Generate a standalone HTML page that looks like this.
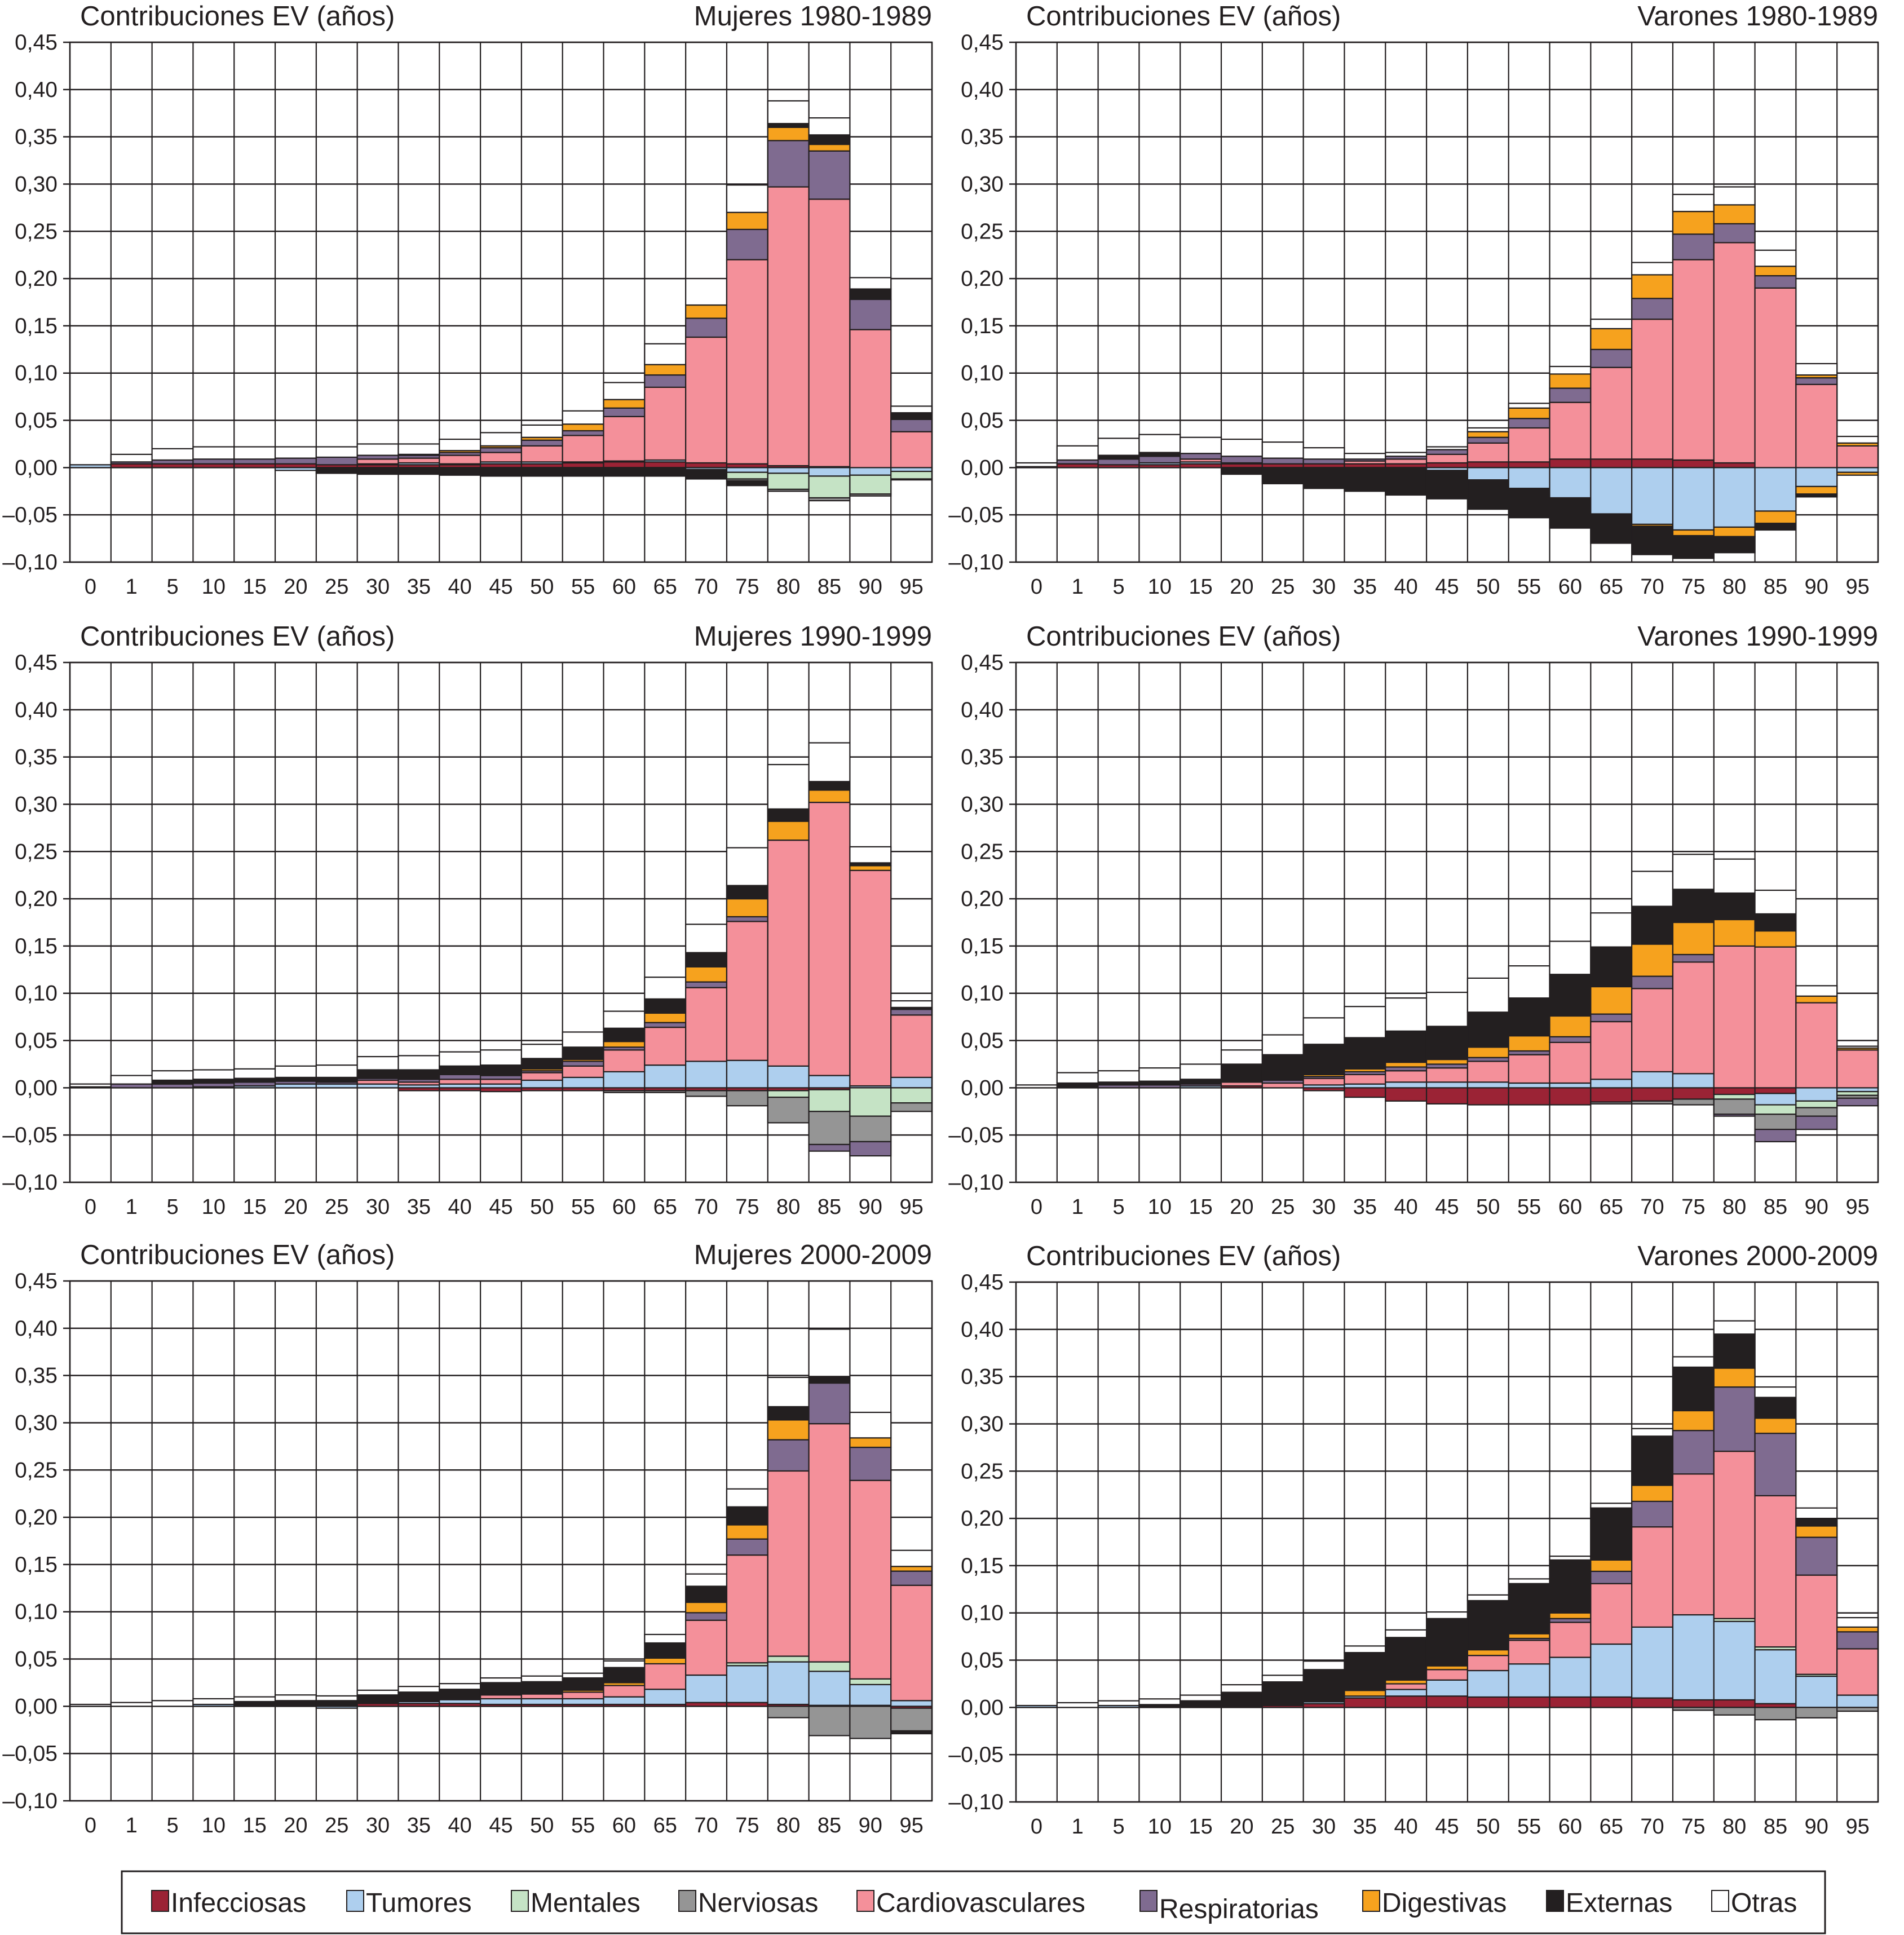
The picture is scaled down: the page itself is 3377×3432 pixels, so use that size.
<!DOCTYPE html>
<html><head><meta charset="utf-8"><style>
html,body{margin:0;padding:0;background:#fff;}
svg{display:block;font-family:"Liberation Sans",Arial,sans-serif;}
</style></head><body>
<svg id="chart" xmlns="http://www.w3.org/2000/svg" width="3377" height="3432" viewBox="0 0 3377 3432"></svg>
<script>
// categories and axis
const categories = ["Infecciosas","Tumores","Mentales","Nerviosas","Cardiovasculares","Respiratorias","Digestivas","Externas","Otras"];
const catKeys = ["inf","tum","ment","nerv","card","resp","dig","ext","otr"];
const catColors = ["#9b2335","#aecfee","#c5e3c5","#959595","#f4909a","#7f6b90","#f6a21e","#231f20","#ffffff"];
const ageLabels = ["0","1","5","10","15","20","25","30","35","40","45","50","55","60","65","70","75","80","85","90","95"];
const yTicks = [-0.10,-0.05,0,0.05,0.10,0.15,0.20,0.25,0.30,0.35,0.40,0.45];
const panelTitles = ["Mujeres 1980-1989","Varones 1980-1989","Mujeres 1990-1999","Varones 1990-1999","Mujeres 2000-2009","Varones 2000-2009"];

// Panel 1: Mujeres 1980-1989
const P1_inf = [0,.004,.004,.004,.004,.004,.003,.003,.003,.003,.004,.004,.005,.006,.006,.005,.004,.002,.001,0,0];
const P1_tum = [.003,0,0,0,0,-.003,0,.001,.002,.001,.002,.002,.001,.001,.002,-.002,-.005,-.006,-.009,-.008,-.004];
const P1_ment = [0,0,0,0,0,0,0,0,0,0,0,0,0,0,0,0,-.007,-.017,-.023,-.02,-.008];
const P1_nerv = [0,0,0,0,0,0,0,0,0,0,0,0,0,0,0,0,-.002,-.002,-.003,-.002,-.001];
const P1_card = [0,0,0,0,0,0,0,.005,.005,.009,.01,.017,.028,.047,.077,.133,.216,.295,.283,.146,.038];
const P1_resp = [0,.002,.004,.005,.005,.006,.008,.004,.003,.003,.005,.006,.005,.009,.013,.02,.032,.049,.051,.032,.013];
const P1_dig = [0,0,0,0,0,0,0,0,.001,.002,.002,.003,.007,.009,.011,.014,.018,.014,.007,0,0];
const P1_ext = [0,0,0,0,0,0,-.006,-.007,-.007,-.008,-.009,-.009,-.009,-.009,-.009,-.01,-.005,.004,.01,.011,.007];
const P1_otr = [0,.008,.012,.013,.013,.012,.011,.012,.011,.012,.014,.013,.014,.018,.022,.028,.029,.024,.018,.012,.007];

// Panel 2: Varones 1980-1989
const P2_inf = [.001,.004,.003,.003,.004,.004,.004,.004,.004,.004,.005,.006,.006,.009,.009,.009,.008,.005,0,0,0];
const P2_tum = [0,0,0,.002,.002,.001,0,0,0,0,-.003,-.013,-.022,-.032,-.049,-.06,-.066,-.063,-.046,-.02,-.005];
const P2_ment = [0,0,0,0,0,0,0,0,0,0,0,0,0,0,0,0,0,0,0,0,0];
const P2_nerv = [0,0,0,0,0,0,0,0,0,0,0,0,0,0,0,0,0,0,0,0,0];
const P2_card = [0,0,0,0,.003,0,0,0,.003,.005,.009,.02,.036,.06,.097,.148,.212,.233,.19,.088,.023];
const P2_resp = [0,.004,.006,.007,.006,.007,.006,.005,.002,.003,.005,.006,.01,.015,.019,.022,.027,.02,.013,.007,0];
const P2_dig = [0,0,0,0,0,0,0,0,0,0,0,.006,.011,.015,.022,.025,.024,.02,.01,.003,.003];
const P2_digNeg = [0,0,0,0,0,0,0,0,0,0,0,0,0,0,0,-.002,-.006,-.01,-.013,-.008,-.003];
const P2_ext = [0,0,.004,.004,0,-.007,-.017,-.022,-.025,-.029,-.03,-.031,-.031,-.032,-.031,-.03,-.024,-.017,-.007,-.003,0];
const P2_otr = [.004,.015,.018,.019,.017,.018,.017,.012,.006,.004,.003,.004,.005,.008,.01,.013,.018,.019,.017,.012,.007];

// Panel 3: Mujeres 1990-1999
const P3_inf = [0,0,0,0,0,0,0,0,-.003,-.003,-.004,-.003,-.003,-.003,-.003,-.003,-.003,-.003,-.002,0,0];
const P3_tum = [.001,0,0,.001,.002,.004,.004,.004,.003,.004,.004,.008,.011,.017,.024,.028,.029,.023,.013,.002,.011];
const P3_ment = [0,0,0,0,0,0,0,0,0,0,0,0,0,0,0,0,0,-.007,-.023,-.03,-.016];
const P3_nerv = [0,0,0,0,0,0,0,0,0,0,0,0,0,-.002,-.002,-.006,-.016,-.027,-.035,-.027,-.009];
const P3_card = [0,0,0,0,0,0,0,.004,.003,.005,.005,.008,.012,.023,.04,.078,.147,.239,.289,.228,.066];
const P3_resp = [0,.004,.004,.004,.004,.003,.002,.002,.003,.005,.004,.002,.005,.003,.005,.006,.005,0,-.007,-.015,.006];
const P3_dig = [0,0,0,0,0,0,0,0,0,0,0,.002,.002,.006,.01,.016,.019,.02,.013,.005,0];
const P3_ext = [0,0,.004,.004,.004,.004,.005,.009,.01,.009,.011,.011,.013,.014,.015,.015,.014,.013,.009,.003,.002];
const P3_otr = [.003,.009,.010,.010,.010,.012,.013,.014,.015,.015,.016,.015,.016,.018,.023,.03,.04,.047,.041,.017,.007];

// Panel 4: Varones 1990-1999
const P4_inf = [0,.001,0,0,0,.002,0,-.003,-.01,-.014,-.017,-.018,-.018,-.018,-.015,-.014,-.012,-.007,-.006,0,0];
const P4_tum = [0,0,0,0,.002,0,0,.003,.004,.006,.006,.006,.005,.005,.009,.017,.015,0,-.012,-.014,-.004];
const P4_ment = [0,0,0,0,0,0,0,0,0,0,0,0,0,0,0,0,0,-.005,-.01,-.007,-.004];
const P4_nerv = [0,0,0,0,0,0,0,0,0,0,0,0,0,0,-.002,-.003,-.006,-.016,-.016,-.009,-.003];
const P4_card = [0,0,0,0,0,.004,.005,.007,.01,.012,.015,.022,.03,.043,.061,.088,.118,.15,.149,.09,.04];
const P4_resp = [0,0,.003,.003,.002,0,.003,.002,.003,.004,.004,.004,.004,.006,.008,.013,.008,-.002,-.013,-.014,-.008];
const P4_dig = [0,0,0,0,0,0,0,.002,.003,.005,.005,.011,.016,.022,.029,.034,.034,.028,.017,.007,.002];
const P4_ext = [0,.004,.003,.004,.005,.019,.027,.032,.033,.033,.035,.037,.04,.044,.042,.04,.035,.028,.018,0,0];
const P4_otr = [.003,.011,.012,.014,.016,.015,.021,.028,.033,.035,.036,.036,.034,.035,.036,.037,.037,.036,.025,.011,.002];

// Panel 5: Mujeres 2000-2009
const P5_inf = [0,0,0,0,0,0,0,.003,.003,.003,.002,.002,.002,.002,.002,.004,.004,.002,.001,.001,-.002];
const P5_tum = [0,0,0,.002,0,0,-.002,0,.002,.004,.006,.006,.006,.008,.016,.029,.039,.045,.036,.022,.006];
const P5_ment = [0,0,0,0,0,0,0,0,0,0,0,0,0,0,0,0,.003,.006,.01,.006,0];
const P5_nerv = [0,0,0,0,0,0,0,0,0,0,0,0,0,0,0,0,0,-.012,-.031,-.034,-.024];
const P5_card = [0,0,0,0,0,0,0,0,0,0,.004,.005,.007,.012,.027,.058,.114,.196,.252,.21,.122];
const P5_resp = [0,0,0,0,0,0,0,0,0,0,0,0,0,0,0,.008,.017,.033,.043,.035,.015];
const P5_dig = [0,0,0,0,0,0,0,0,0,0,0,.001,.002,.003,.006,.011,.015,.021,0,.01,.005];
const P5_ext = [0,0,0,0,.005,.006,.006,.009,.01,.011,.013,.012,.013,.016,.016,.017,.019,.014,.007,0,-.003];
const P5_otr = [.002,.004,.006,.006,.005,.006,.005,.005,.006,.006,.005,.006,.005,.007,.009,.013,.019,.031,.05,.027,.017];

// Panel 6: Varones 2000-2009
const P6_inf = [0,0,0,0,0,0,.002,.004,.01,.012,.012,.011,.011,.011,.011,.01,.008,.008,.004,0,0];
const P6_tum = [.002,0,.002,0,0,0,0,.002,.002,.007,.017,.028,.035,.042,.056,.075,.09,.083,.057,.033,.013];
const P6_ment = [0,0,0,0,0,0,0,0,0,0,0,0,0,0,0,0,0,.003,.003,.002,0];
const P6_nerv = [0,0,0,0,0,0,0,0,0,0,0,0,0,0,0,0,-.003,-.008,-.013,-.011,-.004];
const P6_card = [0,0,0,0,0,0,0,0,0,.006,.011,.016,.025,.037,.064,.106,.149,.177,.16,.105,.049];
const P6_resp = [0,0,0,0,0,0,0,0,0,0,0,0,.002,.004,.013,.027,.046,.068,.066,.04,.018];
const P6_dig = [0,0,0,0,0,0,.001,0,.006,.004,.004,.006,.005,.006,.012,.017,.021,.02,.016,.012,.005];
const P6_ext = [0,0,0,.003,.007,.016,.024,.034,.04,.045,.05,.052,.053,.056,.055,.052,.046,.036,.022,.008,0];
const P6_otr = [0,.005,.005,.006,.006,.008,.007,.009,.007,.008,.007,.006,.005,.004,.005,.008,.011,.014,.011,.011,.01];

const panelSeries = [
  [P1_inf,P1_tum,P1_ment,P1_nerv,P1_card,P1_resp,P1_dig,P1_ext,P1_otr],
  [P2_inf,P2_tum,P2_ment,P2_nerv,P2_card,P2_resp,P2_dig,P2_ext,P2_otr],
  [P3_inf,P3_tum,P3_ment,P3_nerv,P3_card,P3_resp,P3_dig,P3_ext,P3_otr],
  [P4_inf,P4_tum,P4_ment,P4_nerv,P4_card,P4_resp,P4_dig,P4_ext,P4_otr],
  [P5_inf,P5_tum,P5_ment,P5_nerv,P5_card,P5_resp,P5_dig,P5_ext,P5_otr],
  [P6_inf,P6_tum,P6_ment,P6_nerv,P6_card,P6_resp,P6_dig,P6_ext,P6_otr]
];
const panelExtraNeg = [{},{6:P2_digNeg},{},{},{},{}];

const NS = "http://www.w3.org/2000/svg";
const svg = document.getElementById("chart");
const INK = "#231f20";
function mk(tag, attrs, parent){
  const e = document.createElementNS(NS, tag);
  for (const k in attrs) e.setAttribute(k, attrs[k]);
  (parent||svg).appendChild(e);
  return e;
}
function fmt(v){
  const s = Math.abs(v).toFixed(2).replace(".", ",");
  return (v < -1e-9 ? "\u2013" : "") + s;
}
const panelX = [124, 1802];
const rowTop = [75, 1175, 2272];
const plotW = 1529, plotH = 922;
const yMin = -0.10, yMax = 0.45;

panelTitles.forEach(function(title, p){
  const x0 = panelX[p % 2], top = rowTop[Math.floor(p / 2)] + (p === 5 ? 2 : 0);
  const colW = plotW / ageLabels.length;
  const yScale = function(v){ return top + (yMax - v) / (yMax - yMin) * plotH; };
  const xScale = function(i){ return x0 + i * colW; };
  const g = mk("g", {});
  
  

  const t1 = mk("text", {x: x0 + 18, y: top - 30, "font-size": 49, fill: INK}, g);
  t1.textContent = "Contribuciones EV (años)";
  
  
  const t2 = mk("text", {x: x0 + plotW, y: top - 30, "font-size": 49, fill: INK, "text-anchor": "end"}, g);
  t2.textContent = title;
  
  

  yTicks.forEach(function(v){
    const y = yScale(v);
    const gl = mk("line", {x1: x0 - 12, x2: x0 + plotW, y1: y, y2: y, stroke: INK, "stroke-width": 2.5}, g);
    
    
    const tl = mk("text", {x: x0 - 22, y: y + 13, "font-size": 39, fill: INK, "text-anchor": "end"}, g);
    tl.textContent = fmt(v);
    
    
  });
  for (let i = 0; i <= ageLabels.length; i++){
    const vl = mk("line", {x1: xScale(i), x2: xScale(i), y1: top, y2: top + plotH, stroke: INK, "stroke-width": 2.2}, g);
    
    
  }
  ageLabels.forEach(function(lab, i){
    const xl = mk("text", {x: xScale(i) + colW / 2, y: top + plotH + 56, "font-size": 38, fill: INK, "text-anchor": "middle"}, g);
    xl.textContent = lab;
    
    
  });

  const series = panelSeries[p];
  const extra = panelExtraNeg[p];
  for (let i = 0; i < ageLabels.length; i++){
    let pos = 0, neg = 0;
    for (let c = 0; c < categories.length; c++){
      const vals = [series[c][i]];
      if (extra[c]) vals.push(extra[c][i]);
      vals.forEach(function(v){
        if (!v) return;
        let a, b;
        if (v > 0){ a = pos; b = pos + v; pos = b; }
        else { a = neg; b = neg + v; neg = b; }
        const yA = yScale(Math.max(a, b)), yB = yScale(Math.min(a, b));
        const r = mk("rect", {x: xScale(i), y: yA, width: colW, height: Math.max(yB - yA, 0.5), fill: catColors[c], stroke: INK, "stroke-width": 2.2}, g);
        
        
      });
    }
  }
  const fr = mk("rect", {x: x0, y: top, width: plotW, height: plotH, fill: "none", stroke: INK, "stroke-width": 2.5}, g);
  
  
});

// legend
const legendX = [269, 615, 907, 1204, 1520, 2022, 2417, 2743, 3036];
const lg = mk("g", {});


const lbox = mk("rect", {x: 216, y: 3319, width: 3021, height: 110, fill: "#fff", stroke: INK, "stroke-width": 3}, lg);


categories.forEach(function(name, c){
  const sw = mk("rect", {x: legendX[c], y: 3353, width: 30, height: 37, fill: catColors[c], stroke: INK, "stroke-width": 2}, lg);
  
  
  const tx = mk("text", {x: legendX[c] + 34, y: name === "Respiratorias" ? 3402 : 3391, "font-size": 48, fill: INK}, lg);
  tx.textContent = name;
  
  
});
</script>
</body></html>
